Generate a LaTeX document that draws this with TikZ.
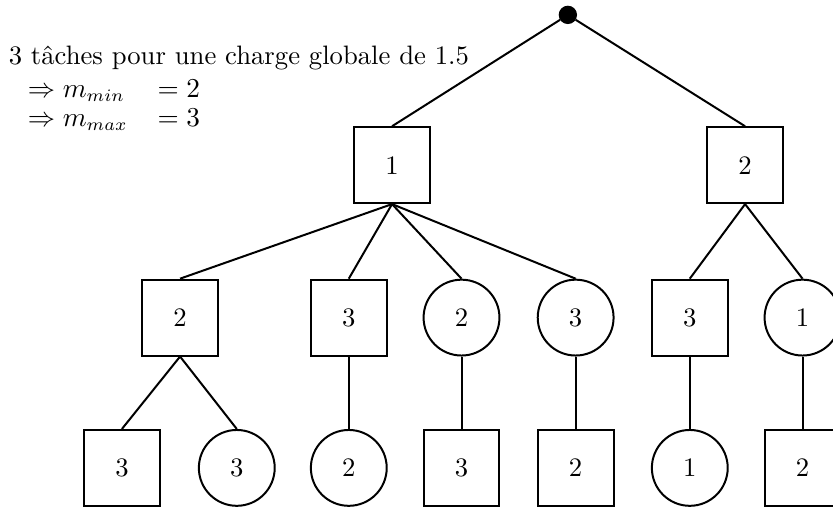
\documentclass[tikz,border=0pt]{standalone}
\usepackage{fontspec}
\usetikzlibrary{positioning}
\tikzset{
  boite/.style={draw,rectangle,minimum size=1.07cm,inner sep=0pt},
  rond/.style={draw,circle,minimum size=1.07cm,inner sep=0pt},
  racine/.style={draw,circle,fill=black,minimum size=0.23cm,inner sep=0pt},
  texte/.style={anchor=base west,inner sep=0pt}
}
\begin{document}
\begin{tikzpicture}[thick,font=\fontsize{10.7pt}{13pt}\selectfont]
\useasboundingbox (-8.01,0.21) rectangle (3.74,-6.93);
% racine
\node[racine] (R) at (0,0) {};

% premier niveau
\node[boite] (A1) at (-2.48,-2.12) {1};
\node[boite] (A2) at (2.50,-2.12) {2};

% second niveau
\node[boite] (B1) at (-5.47,-4.27) {2};
\node[boite] (B2) at (-3.09,-4.27) {3};
\node[rond]  (B3) at (-1.50,-4.27) {2};
\node[rond]  (B4) at (0.11,-4.27) {3};
\node[boite] (B5) at (1.72,-4.27) {3};
\node[rond]  (B6) at (3.31,-4.27) {1};

% feuilles
\node[boite] (C1) at (-6.29,-6.39) {3};
\node[rond]  (C2) at (-4.67,-6.39) {3};
\node[rond]  (C3) at (-3.09,-6.39) {2};
\node[boite] (C4) at (-1.50,-6.39) {3};
\node[boite] (C5) at (0.11,-6.39) {2};
\node[rond]  (C6) at (1.72,-6.39) {1};
\node[boite] (C7) at (3.31,-6.39) {2};

\draw (R) -- (A1.north);
\draw (R) -- (A2.north);
\foreach \n in {B1,B2,B3,B4}
  \draw (A1.south) -- (\n.north);
\foreach \n in {B5,B6}
  \draw (A2.south) -- (\n.north);
\draw (B1.south) -- (C1.north);
\draw (B1.south) -- (C2.north);
\draw (B2.south) -- (C3.north);
\draw (B3.south) -- (C4.north);
\draw (B4.south) -- (C5.north);
\draw (B5.south) -- (C6.north);
\draw (B6.south) -- (C7.north);

\node[texte] (info) at (-7.90,-0.705) {3 tâches pour une charge globale de 1.5};
\node[texte] (mmin) at (-7.63,-1.171) {$\Rightarrow m_{min}$};
\node[texte] (vmin) at (-5.80,-1.171) {$= 2$};
\node[texte] (mmax) at (-7.63,-1.580) {$\Rightarrow m_{max}$};
\node[texte] (vmax) at (-5.80,-1.580) {$= 3$};
\end{tikzpicture}
\end{document}
